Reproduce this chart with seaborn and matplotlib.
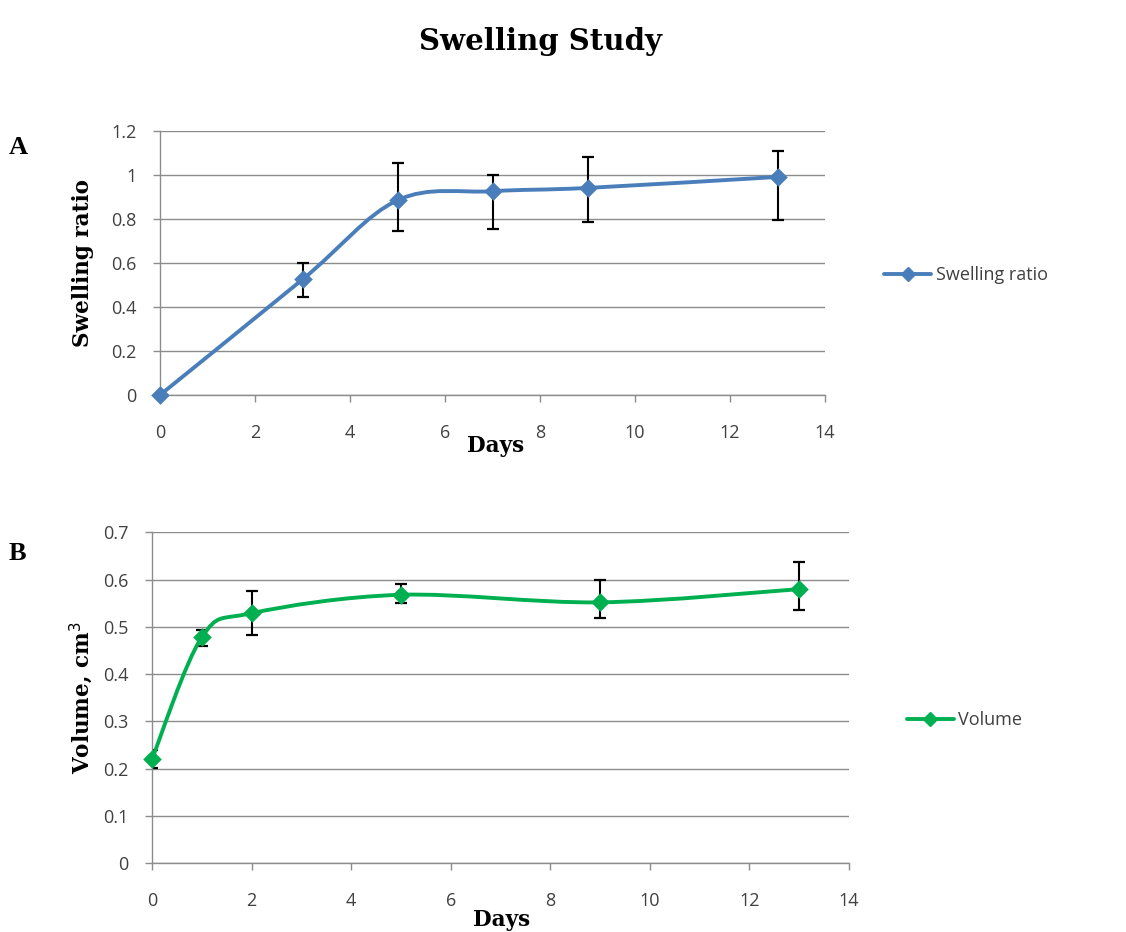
import matplotlib
matplotlib.use('Agg')
import matplotlib.pyplot as plt
from matplotlib.path import Path
from matplotlib.patches import PathPatch
from matplotlib.lines import Line2D
import seaborn as sns
import numpy as np

# ---------------- data ----------------
days_a = [0, 3, 5, 7, 9, 13]
swelling = [0.0, 0.525, 0.885, 0.926, 0.941, 0.991]
swell_err_lo = [0.0, 0.08, 0.138, 0.173, 0.153, 0.197]
swell_err_hi = [0.0, 0.077, 0.171, 0.074, 0.141, 0.116]

days_b = [0, 1, 2, 5, 9, 13]
volume = [0.220, 0.478, 0.529, 0.568, 0.552, 0.580]
vol_err_lo = [0.018, 0.018, 0.046, 0.018, 0.033, 0.045]
vol_err_hi = [0.019, 0.015, 0.047, 0.023, 0.048, 0.058]

x_ticks = [0, 2, 4, 6, 8, 10, 12, 14]
y_ticks_a = [0, 0.2, 0.4, 0.6, 0.8, 1, 1.2]
y_ticks_b = [0, 0.1, 0.2, 0.3, 0.4, 0.5, 0.6, 0.7]

BLUE = '#4a7ebb'
GREEN = '#00b050'
GRID = '#8c8c8c'
TICK_TXT = '#404040'

sns.set_theme(style='white')
plt.rcParams['font.family'] = ['Open Sans', 'DejaVu Sans']

SLAB = ['DejaVu Serif']
LABEL_SIZE = 15.5


def smooth_path(x, y):
    # Excel-style smoothed line: cubic bezier through the data points
    pts = np.column_stack([x, y]).astype(float)
    n = len(pts)
    verts = [pts[0]]
    codes = [Path.MOVETO]
    for i in range(n - 1):
        p0 = pts[i - 1] if i > 0 else pts[i]
        p1 = pts[i]
        p2 = pts[i + 1]
        p3 = pts[i + 2] if i + 2 < n else pts[i + 1]
        c1 = p1 + (p2 - p0) / 6.0
        c2 = p2 - (p3 - p1) / 6.0
        verts += [c1, c2, p2]
        codes += [Path.CURVE4] * 3
    return Path(verts, codes)


def draw_panel(ax, x, y, lo, hi, color, yticks, ylabel, legend_label, legend_pos):
    ax.errorbar(x, y, yerr=[lo, hi], fmt='none', ecolor='black',
                elinewidth=1.5, capsize=4.5, capthick=1.6, zorder=2)
    ax.add_patch(PathPatch(smooth_path(x, y), facecolor='none',
                           edgecolor=color, lw=2.8, zorder=3))
    sns.scatterplot(x=x, y=y, ax=ax, marker='D', s=90, color=color,
                    edgecolor=color, linewidth=0, zorder=4, clip_on=False)

    ax.set_xlim(0, 14)
    ax.set_ylim(yticks[0], yticks[-1])
    ax.set_xticks(x_ticks)
    ax.set_yticks(yticks)
    ax.set_yticklabels([f'{t:g}' for t in yticks])
    ax.yaxis.grid(True, color=GRID, lw=1.0)
    ax.xaxis.grid(False)
    for s in ['top', 'right']:
        ax.spines[s].set_visible(False)
    for s in ['left', 'bottom']:
        ax.spines[s].set_color(GRID)
        ax.spines[s].set_linewidth(1.0)
    ax.tick_params(axis='both', which='major', direction='out', length=5,
                   width=1.0, color=GRID, labelsize=13, labelcolor=TICK_TXT,
                   left=True, bottom=True)
    ax.tick_params(axis='x', pad=16)
    ax.tick_params(axis='y', pad=12)
    ax.set_ylabel(ylabel, fontsize=LABEL_SIZE, fontweight='bold', family=SLAB,
                  color='black')
    ax.set_axisbelow(True)

    handle = Line2D([0], [0], color=color, lw=2.8, marker='D', markersize=7)
    ax.legend([handle], [legend_label], loc='center left',
              bbox_to_anchor=legend_pos, bbox_transform=ax.figure.transFigure,
              frameon=False, fontsize=13, handlelength=2.6, handletextpad=0.25,
              labelcolor=TICK_TXT)


fig = plt.figure(figsize=(11.26, 9.32), dpi=100)
ax_a = fig.add_axes([0.1421, 0.5762, 0.5906, 0.2833])
ax_b = fig.add_axes([0.135, 0.074, 0.619, 0.3547])

draw_panel(ax_a, days_a, swelling, swell_err_lo, swell_err_hi, BLUE,
           y_ticks_a, 'Swelling ratio', 'Swelling ratio', (0.771, 0.705))
draw_panel(ax_b, days_b, volume, vol_err_lo, vol_err_hi, GREEN,
           y_ticks_b, 'Volume, cm$^3$', 'Volume', (0.791, 0.227))

ax_a.yaxis.set_label_coords(-0.10, 0.5)
ax_b.yaxis.set_label_coords(-0.082, 0.5)

fig.text(0.44, 1 - 446 / 932, 'Days', ha='center', va='center',
         fontsize=LABEL_SIZE, fontweight='bold', family=SLAB, color='black')
fig.text(0.445, 1 - 920 / 932, 'Days', ha='center', va='center',
         fontsize=LABEL_SIZE, fontweight='bold', family=SLAB, color='black')

fig.text(0.48, 1 - 42 / 932, 'Swelling Study', ha='center', va='center',
         fontsize=21, fontweight='bold', family=SLAB, color='black')
fig.text(0.008, 1 - 147 / 932, 'A', ha='left', va='center',
         fontsize=19, fontweight='bold', family=['Liberation Serif'],
         color='black')
fig.text(0.008, 1 - 553 / 932, 'B', ha='left', va='center',
         fontsize=19, fontweight='bold', family=['Liberation Serif'],
         color='black')

fig.savefig('out.png', dpi=100, facecolor='white')
